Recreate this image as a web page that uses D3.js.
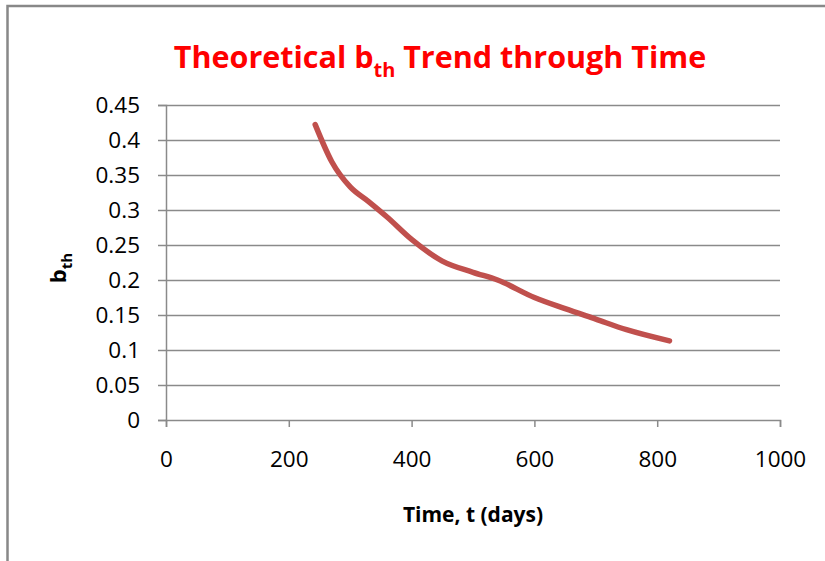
<!DOCTYPE html>
<html>
<head>
<meta charset="utf-8">
<script src="https://cdn.jsdelivr.net/npm/d3@7"></script>
<style>
  html, body { margin: 0; padding: 0; background: #fff; }
  svg { display: block; }
  text { font-family: "Open Sans", "DejaVu Sans", sans-serif; }
</style>
</head>
<body>
<svg id="chart" width="825" height="561"></svg>
<script>
// Time (days) and theoretical b_th values along the trend curve
const timeDays = [243, 270, 300, 330, 360, 400, 450, 500, 540, 600, 650, 700, 750, 820];
const bTh = [0.422, 0.369, 0.333, 0.312, 0.290, 0.258, 0.227, 0.211, 0.200, 0.175, 0.159, 0.144, 0.129, 0.113];

const xTicks = [0, 200, 400, 600, 800, 1000];
const yTicks = [0, 0.05, 0.1, 0.15, 0.2, 0.25, 0.3, 0.35, 0.4, 0.45];

const svg = d3.select("#chart");
const W = 825, H = 561;
const plot = { left: 166, right: 780, top: 105, bottom: 420 };
const gridColor = "#8a8a8a";

// chart frame (clipped at the right and bottom edges)
svg.append("path")
  .attr("d", `M7.5,${H + 5} V6 H${W + 5}`)
  .attr("fill", "none")
  .attr("stroke", "#888")
  .attr("stroke-width", 2.5);

const x = d3.scaleLinear().domain([0, 1000]).range([plot.left, plot.right]);
const y = d3.scaleLinear().domain([0, 0.45]).range([plot.bottom, plot.top]);

// horizontal gridlines
svg.append("g")
  .selectAll("line")
  .data(yTicks.filter(d => d > 0))
  .join("line")
  .attr("x1", plot.left).attr("x2", plot.right)
  .attr("y1", d => Math.round(y(d)) + 0.5).attr("y2", d => Math.round(y(d)) + 0.5)
  .attr("stroke", gridColor)
  .attr("stroke-width", 1.5);

// y axis
const yAxis = svg.append("g")
  .attr("transform", `translate(${plot.left},0)`)
  .call(d3.axisLeft(y).tickValues(yTicks).tickSize(8).tickPadding(18)
    .tickFormat(d => d3.format("")(+d.toFixed(2))));
yAxis.select(".domain").attr("stroke", gridColor).attr("stroke-width", 1.5);
yAxis.selectAll(".tick line").attr("stroke", gridColor).attr("stroke-width", 1.5);
yAxis.selectAll(".tick text")
  .attr("font-size", 22.5)
  .attr("fill", "#000")
  .style("font-family", '"Open Sans", sans-serif');

// x axis
const xAxis = svg.append("g")
  .attr("transform", `translate(0,${plot.bottom})`)
  .call(d3.axisBottom(x).tickValues(xTicks).tickSize(7).tickPadding(24)
    .tickFormat(d3.format("d")));
xAxis.select(".domain").attr("stroke", gridColor).attr("stroke-width", 1.5);
xAxis.selectAll(".tick line").attr("stroke", gridColor).attr("stroke-width", 1.5);
xAxis.selectAll(".tick text")
  .attr("font-size", 22.5)
  .attr("fill", "#000")
  .style("font-family", '"Open Sans", sans-serif');

// trend curve
const line = d3.line()
  .x((d, i) => x(timeDays[i]))
  .y(d => y(d))
  .curve(d3.curveMonotoneX);

svg.append("path")
  .datum(bTh)
  .attr("d", line)
  .attr("fill", "none")
  .attr("stroke", "#C0504D")
  .attr("stroke-width", 5.5)
  .attr("stroke-linecap", "round")
  .attr("stroke-linejoin", "round");

// title
const title = svg.append("text")
  .attr("x", 440)
  .attr("y", 68)
  .attr("text-anchor", "middle")
  .attr("fill", "#ff0000")
  .attr("font-weight", "bold")
  .attr("font-size", 30.5);
title.append("tspan").text("Theoretical b");
title.append("tspan").attr("dy", 9).attr("font-size", 20).text("th");
title.append("tspan").attr("dy", -9).text(" Trend through Time");

// x axis title
svg.append("text")
  .attr("x", (plot.left + plot.right) / 2)
  .attr("y", 522)
  .attr("text-anchor", "middle")
  .attr("font-weight", "bold")
  .attr("font-size", 21)
  .attr("fill", "#000")
  .text("Time, t (days)");

// y axis title
const yTitle = svg.append("text")
  .attr("transform", "translate(66,268) rotate(-90)")
  .attr("text-anchor", "middle")
  .attr("font-weight", "bold")
  .attr("font-size", 22)
  .attr("fill", "#000");
yTitle.append("tspan").text("b");
yTitle.append("tspan").attr("dy", 6).attr("font-size", 15).text("th");
</script>
</body>
</html>
